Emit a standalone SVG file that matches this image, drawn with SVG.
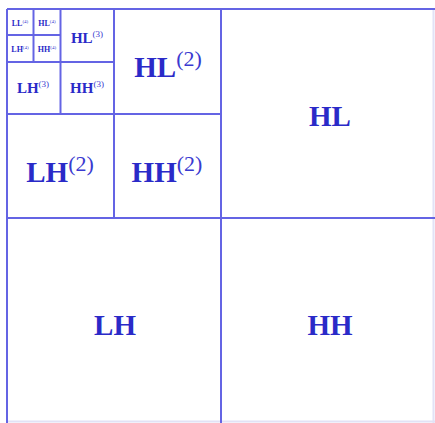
<svg xmlns="http://www.w3.org/2000/svg" width="435" height="423" viewBox="0 0 435 423">
<style>
.ln{stroke:#6464e4;stroke-width:2;fill:none}
.fl{stroke:#e2e2f6;stroke-width:2;fill:none}
text{font-family:"Liberation Serif","Times New Roman",serif;font-weight:bold;fill:#2a2ac8;text-anchor:middle}
.sup{font-weight:normal;fill:#3a3ad0}
.s1{font-size:29px}
.s3{font-size:15px}
.s4{font-size:8px}
</style>
<rect width="435" height="423" fill="#ffffff"/>
<g id="connectors">
<line class="fl" x1="433.5" y1="9" x2="433.5" y2="423"/>
<line class="fl" x1="7" y1="421.5" x2="435" y2="421.5"/>
<line class="ln" x1="7" y1="9" x2="435" y2="9"/>
<line class="ln" x1="7" y1="9" x2="7" y2="423"/>
<line class="ln" x1="221" y1="9" x2="221" y2="423"/>
<line class="ln" x1="7" y1="218" x2="435" y2="218"/>
<line class="ln" x1="114" y1="9" x2="114" y2="218"/>
<line class="ln" x1="7" y1="114" x2="221" y2="114"/>
<line class="ln" x1="60.5" y1="9" x2="60.5" y2="114"/>
<line class="ln" x1="7" y1="62" x2="114" y2="62"/>
<line class="ln" x1="33.5" y1="9" x2="33.5" y2="62"/>
<line class="ln" x1="7" y1="35" x2="60.5" y2="35"/>
</g>
<g id="LL4"><text class="s4" x="20" y="26">LL<tspan class="sup" dy="-3" font-size="5">(4)</tspan></text></g>
<g id="HL4"><text class="s4" x="47" y="26">HL<tspan class="sup" dy="-3" font-size="5">(4)</tspan></text></g>
<g id="LH4"><text class="s4" x="20" y="52">LH<tspan class="sup" dy="-3" font-size="5">(4)</tspan></text></g>
<g id="HH4"><text class="s4" x="47" y="52">HH<tspan class="sup" dy="-3" font-size="5">(4)</tspan></text></g>
<g id="HL3"><text class="s3" x="87" y="43">HL<tspan class="sup" dy="-6" font-size="9">(3)</tspan></text></g>
<g id="LH3"><text class="s3" x="33" y="93">LH<tspan class="sup" dy="-6" font-size="9">(3)</tspan></text></g>
<g id="HH3"><text class="s3" x="87" y="93">HH<tspan class="sup" dy="-6" font-size="9">(3)</tspan></text></g>
<g id="HL2"><text class="s1" x="168" y="77">HL<tspan class="sup" dy="-11" font-size="22">(2)</tspan></text></g>
<g id="LH2"><text class="s1" x="60" y="182">LH<tspan class="sup" dy="-11" font-size="22">(2)</tspan></text></g>
<g id="HH2"><text class="s1" x="167" y="182">HH<tspan class="sup" dy="-11" font-size="22">(2)</tspan></text></g>
<g id="HL"><text class="s1" x="330" y="126">HL</text></g>
<g id="LH"><text class="s1" x="115" y="335">LH</text></g>
<g id="HH"><text class="s1" x="330" y="335">HH</text></g>
</svg>
